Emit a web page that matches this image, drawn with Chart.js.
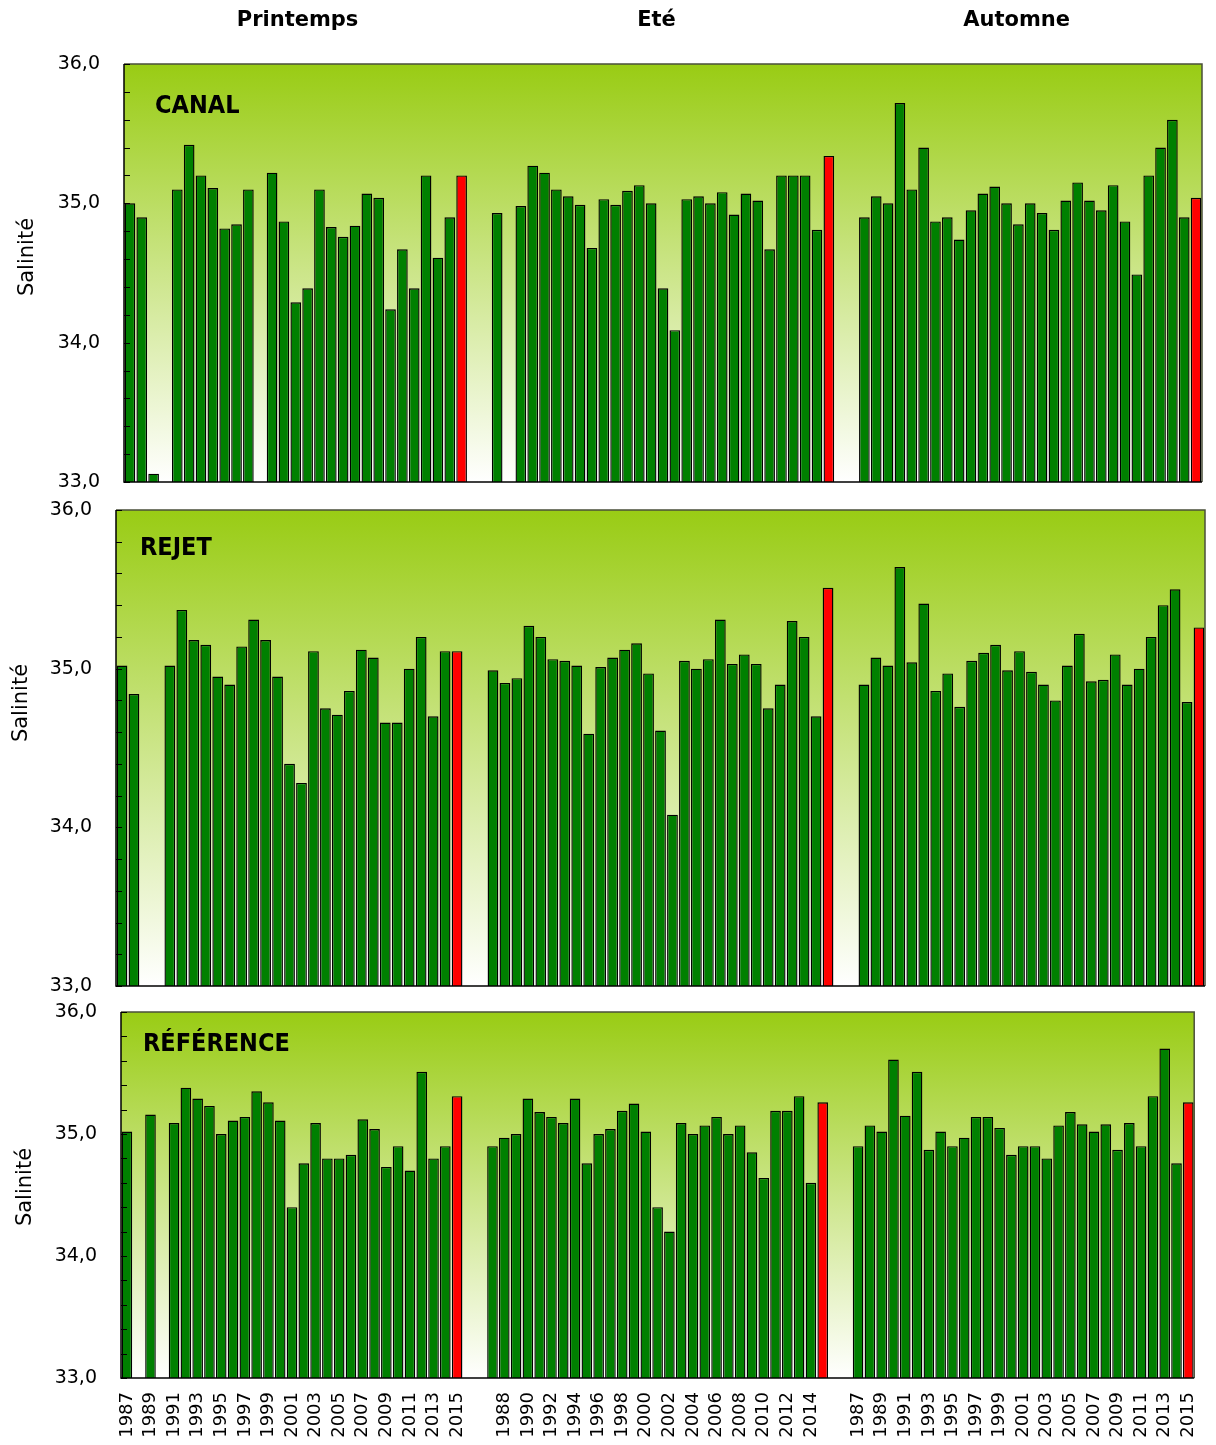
<!DOCTYPE html>
<html>
<head>
<meta charset="utf-8">
<script src="https://cdn.jsdelivr.net/npm/chart.js@4.4.0/dist/chart.umd.min.js"></script>
<style>
  body { margin: 0; background: #fff; }
  .panel { position: absolute; left: 0; width: 1216px; }
</style>
</head>
<body>
<div class="panel" style="top:0;height:510px"><canvas id="canal" width="1216" height="510"></canvas></div>
<div class="panel" style="top:482px;height:532px"><canvas id="rejet" width="1216" height="532"></canvas></div>
<div class="panel" style="top:984px;height:461px"><canvas id="reference" width="1216" height="461"></canvas></div>
<script>
const years = ['1987','1988','1989','1990','1991','1992','1993','1994','1995','1996',
               '1997','1998','1999','2000','2001','2002','2003','2004','2005','2006',
               '2007','2008','2009','2010','2011','2012','2013','2014','2015'];
const seasons = ['Printemps', 'Eté', 'Automne'];
const currentYear = '2015';

// salinité par saison, 1987 -> 2015 (null = pas de mesure)
const canalPrintemps = [35.00, 34.90, 33.06, null, 35.10, 35.42, 35.20, 35.11, 34.82, 34.85, 35.10, null, 35.22, 34.87, 34.29, 34.39, 35.10, 34.83, 34.76, 34.84, 35.07, 35.04, 34.24, 34.67, 34.39, 35.20, 34.61, 34.90, 35.20];
const canalEte       = [34.93, null, 34.98, 35.27, 35.22, 35.10, 35.05, 34.99, 34.68, 35.03, 34.99, 35.09, 35.13, 35.00, 34.39, 34.09, 35.03, 35.05, 35.00, 35.08, 34.92, 35.07, 35.02, 34.67, 35.20, 35.20, 35.20, 34.81, 35.34];
const canalAutomne   = [34.90, 35.05, 35.00, 35.72, 35.10, 35.40, 34.87, 34.90, 34.74, 34.95, 35.07, 35.12, 35.00, 34.85, 35.00, 34.93, 34.81, 35.02, 35.15, 35.02, 34.95, 35.13, 34.87, 34.49, 35.20, 35.40, 35.60, 34.90, 35.04];

const rejetPrintemps = [35.02, 34.84, null, null, 35.02, 35.37, 35.18, 35.15, 34.95, 34.90, 35.14, 35.31, 35.18, 34.95, 34.40, 34.28, 35.11, 34.75, 34.71, 34.86, 35.12, 35.07, 34.66, 34.66, 35.00, 35.20, 34.70, 35.11, 35.11];
const rejetEte       = [34.99, 34.91, 34.94, 35.27, 35.20, 35.06, 35.05, 35.02, 34.59, 35.01, 35.07, 35.12, 35.16, 34.97, 34.61, 34.08, 35.05, 35.00, 35.06, 35.31, 35.03, 35.09, 35.03, 34.75, 34.90, 35.30, 35.20, 34.70, 35.51];
const rejetAutomne   = [34.90, 35.07, 35.02, 35.64, 35.04, 35.41, 34.86, 34.97, 34.76, 35.05, 35.10, 35.15, 34.99, 35.11, 34.98, 34.90, 34.80, 35.02, 35.22, 34.92, 34.93, 35.09, 34.90, 35.00, 35.20, 35.40, 35.50, 34.79, 35.26];

const refPrintemps   = [35.02, null, 35.16, null, 35.09, 35.38, 35.29, 35.23, 35.00, 35.11, 35.14, 35.35, 35.26, 35.11, 34.40, 34.76, 35.09, 34.80, 34.80, 34.83, 35.12, 35.04, 34.73, 34.90, 34.70, 35.51, 34.80, 34.90, 35.31];
const refEte         = [34.90, 34.97, 35.00, 35.29, 35.18, 35.14, 35.09, 35.29, 34.76, 35.00, 35.04, 35.19, 35.25, 35.02, 34.40, 34.20, 35.09, 35.00, 35.07, 35.14, 35.00, 35.07, 34.85, 34.64, 35.19, 35.19, 35.31, 34.60, 35.26];
const refAutomne     = [34.90, 35.07, 35.02, 35.61, 35.15, 35.51, 34.87, 35.02, 34.90, 34.97, 35.14, 35.14, 35.05, 34.83, 34.90, 34.90, 34.80, 35.07, 35.18, 35.08, 35.02, 35.08, 34.87, 35.09, 34.90, 35.31, 35.70, 34.76, 35.26];

const yTicks = { min: 33, max: 36, step: 0.2 };

// 3 saisons separees par 2 categories vides
const gap = ['', ''];
const labels = [...years, ...gap, ...years, ...gap, ...years];
const join = (p, e, a) => [...p, null, null, ...e, null, null, ...a];

const GREEN = '#008000';
const RED = '#ff0000';
const FONT = '"DejaVu Sans", Verdana, sans-serif';

const decor = {
  id: 'decor',
  beforeDraw(chart) {
    const { ctx, chartArea: a } = chart;
    const g = ctx.createLinearGradient(0, a.top, 0, a.bottom);
    g.addColorStop(0, '#99cc14');
    g.addColorStop(1, '#ffffff');
    ctx.save();
    ctx.fillStyle = g;
    ctx.fillRect(a.left, a.top, a.right - a.left, a.bottom - a.top);
    ctx.restore();
  },
  afterDraw(chart, args, opts) {
    const { ctx, chartArea: a } = chart;
    const y = chart.scales.y;
    ctx.save();
    // cadre
    ctx.strokeStyle = '#4a4f3a';
    ctx.lineWidth = 1.5;
    ctx.beginPath();
    ctx.moveTo(a.left, a.top); ctx.lineTo(a.right, a.top); ctx.lineTo(a.right, a.bottom);
    ctx.stroke();
    ctx.strokeStyle = '#000';
    ctx.beginPath();
    ctx.moveTo(a.left, a.top); ctx.lineTo(a.left, a.bottom); ctx.lineTo(a.right, a.bottom);
    ctx.stroke();
    // petites graduations vers l'interieur
    ctx.lineWidth = 1;
    y.ticks.forEach(t => {
      const py = Math.round(y.getPixelForValue(t.value)) + 0.5;
      ctx.beginPath();
      ctx.moveTo(a.left, py); ctx.lineTo(a.left + 6, py);
      ctx.stroke();
    });
    // nom de la station
    ctx.fillStyle = '#000';
    ctx.font = 'bold 25px "DejaVu Sans Condensed", "DejaVu Sans", sans-serif';
    ctx.textBaseline = 'alphabetic';
    ctx.fillText(opts.name, a.left + opts.nameDx, a.top + opts.nameDy);
    // titre de l'axe
    ctx.font = '21px ' + FONT;
    ctx.textAlign = 'center';
    ctx.textBaseline = 'middle';
    ctx.translate(opts.axisX, opts.axisY);
    ctx.rotate(-Math.PI / 2);
    ctx.fillText('Salinité', 0, 0);
    ctx.restore();
    // saisons
    if (opts.seasons) {
      ctx.save();
      ctx.font = 'bold 21px ' + FONT;
      ctx.textAlign = 'center';
      ctx.textBaseline = 'middle';
      ctx.fillStyle = '#000';
      const w = a.right - a.left;
      [0.161, 0.494, 0.828].forEach((f, i) => ctx.fillText(seasons[i], a.left + f * w, 21));
      ctx.restore();
    }
  }
};

function makePanel(id, values, p) {
  new Chart(document.getElementById(id), {
    type: 'bar',
    data: {
      labels: labels,
      datasets: [{
        data: values,
        backgroundColor: labels.map(l => l === currentYear ? RED : GREEN),
        borderColor: '#000',
        borderWidth: 1.4,
        barPercentage: 0.9,
        categoryPercentage: 1
      }]
    },
    options: {
      responsive: false,
      animation: false,
      layout: { padding: { top: p.top, bottom: p.bottom, left: 0, right: p.right } },
      plugins: {
        legend: { display: false },
        tooltip: { enabled: false },
        decor: p
      },
      scales: {
        x: {
          display: p.xLabels,
          afterFit(scale) { if (p.xLabels) scale.height = 67; },
          grid: { display: false },
          border: { display: false },
          ticks: {
            autoSkip: false,
            minRotation: 90,
            maxRotation: 90,
            padding: 6,
            color: '#000',
            font: { size: 18, family: FONT },
            callback: function (v, i) { return i % 2 === 0 ? this.getLabelForValue(v) : ''; }
          }
        },
        y: {
          min: yTicks.min,
          max: yTicks.max,
          afterFit(scale) { scale.width = p.left; },
          grid: { display: false },
          border: { display: false },
          ticks: {
            stepSize: yTicks.step,
            autoSkip: false,
            padding: 16,
            color: '#000',
            font: { size: 19, family: FONT },
            callback: v => Math.abs(v - Math.round(v)) < 1e-6 ? v.toFixed(1).replace('.', ',') : ''
          }
        }
      }
    },
    plugins: [decor]
  });
}

makePanel('canal', join(canalPrintemps, canalEte, canalAutomne),
  { name: 'CANAL', nameDx: 31, nameDy: 49, axisX: 28, axisY: 257, seasons: true,
    top: 64, bottom: 28, left: 124, right: 14, xLabels: false });
makePanel('rejet', join(rejetPrintemps, rejetEte, rejetAutomne),
  { name: 'REJET', nameDx: 24, nameDy: 45, axisX: 22, axisY: 221, seasons: false,
    top: 28, bottom: 28, left: 116, right: 11, xLabels: false });
makePanel('reference', join(refPrintemps, refEte, refAutomne),
  { name: 'RÉFÉRENCE', nameDx: 22, nameDy: 39, axisX: 26, axisY: 203, seasons: false,
    top: 28, bottom: 0, left: 121, right: 18, xLabels: true });
</script>
</body>
</html>
